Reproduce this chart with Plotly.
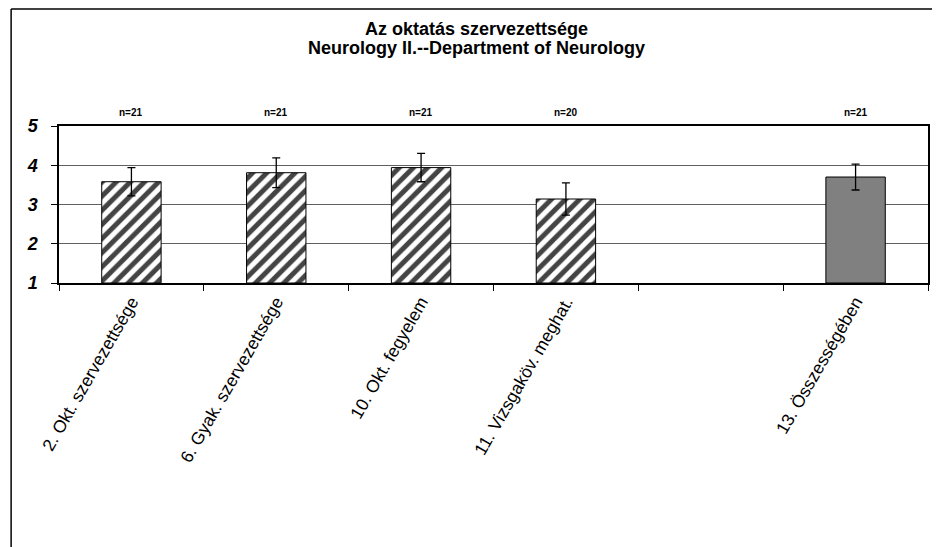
import plotly.graph_objects as go

# survey items (one empty slot between item 11 and the overall score)
categories = ["2. Okt. szervezettsége", "6. Gyak. szervezettsége", "10. Okt. fegyelem",
              "11. Vizsgaköv. meghat.", " ", "13. Összességében"]
means = [3.58, 3.81, 3.94, 3.14, None, 3.70]
errors = [0.36, 0.38, 0.36, 0.41, None, 0.33]
n_labels = ["n=21", "n=21", "n=21", "n=20", "", "n=21"]
fills = ["white", "white", "white", "white", "white", "#808080"]
patterns = ["/", "/", "/", "/", "", ""]
title_lines = ["Az oktatás szervezettsége", "Neurology II.--Department of Neurology"]

FONT = "Arial, Liberation Sans, sans-serif"

fig = go.Figure()
fig.add_bar(
    x=categories, y=[m - 1 if m is not None else None for m in means], base=1,
    width=0.41,
    marker=dict(
        color=fills,
        line=dict(color="black", width=1),
        pattern=dict(shape=patterns, fgcolor="black", fgopacity=1,
                     size=10, solidity=0.5),
    ),
    error_y=dict(type="data", array=errors, color="black", thickness=1.3, width=4),
    hoverinfo="skip",
)

for cat, lab in zip(categories, n_labels):
    if lab:
        fig.add_annotation(
            x=cat, y=1.089, xref="x", yref="paper", yanchor="middle",
            text=lab, showarrow=False,
            font=dict(family=FONT, size=10, color="black", weight="bold"),
        )

for line, ypos in zip(title_lines, [1.618, 1.497]):
    fig.add_annotation(
        x=0.48, y=ypos, xref="paper", yref="paper", yanchor="middle",
        showarrow=False, text=line,
        font=dict(family=FONT, size=18, color="black", weight="bold"),
    )

# outer chart border: only its left and top sides are inside the picture
border = dict(color="black", width=1.5)
fig.add_shape(type="line", xref="paper", yref="paper",
              x0=-0.0551, x1=-0.0551, y0=-2.0, y1=1.745, line=border)
fig.add_shape(type="line", xref="paper", yref="paper",
              x0=-0.0551, x1=1.3, y0=1.745, y1=1.745, line=border)

fig.update_xaxes(
    type="category", tickson="boundaries", ticks="outside", ticklen=6,
    tickcolor="black", tickangle=-60, showgrid=False,
    showline=True, linecolor="black", linewidth=1.5, mirror=True,
    tickfont=dict(family=FONT, size=17.5, color="black"),
)
fig.update_yaxes(
    range=[1, 5], tickvals=[1, 2, 3, 4, 5], ticks="outside", ticklen=6,
    tickcolor="black", showgrid=True, gridcolor="#606060", gridwidth=1,
    showline=True, linecolor="black", linewidth=1.5, mirror=True,
    ticklabelstandoff=10,
    tickfont=dict(family=FONT, size=18, color="black", weight="bold", style="italic"),
)
fig.update_layout(
    width=932, height=539,
    margin=dict(l=51, r=10, t=118, b=264),
    plot_bgcolor="white", paper_bgcolor="white",
    showlegend=False,
)

fig.write_html("out.html")
